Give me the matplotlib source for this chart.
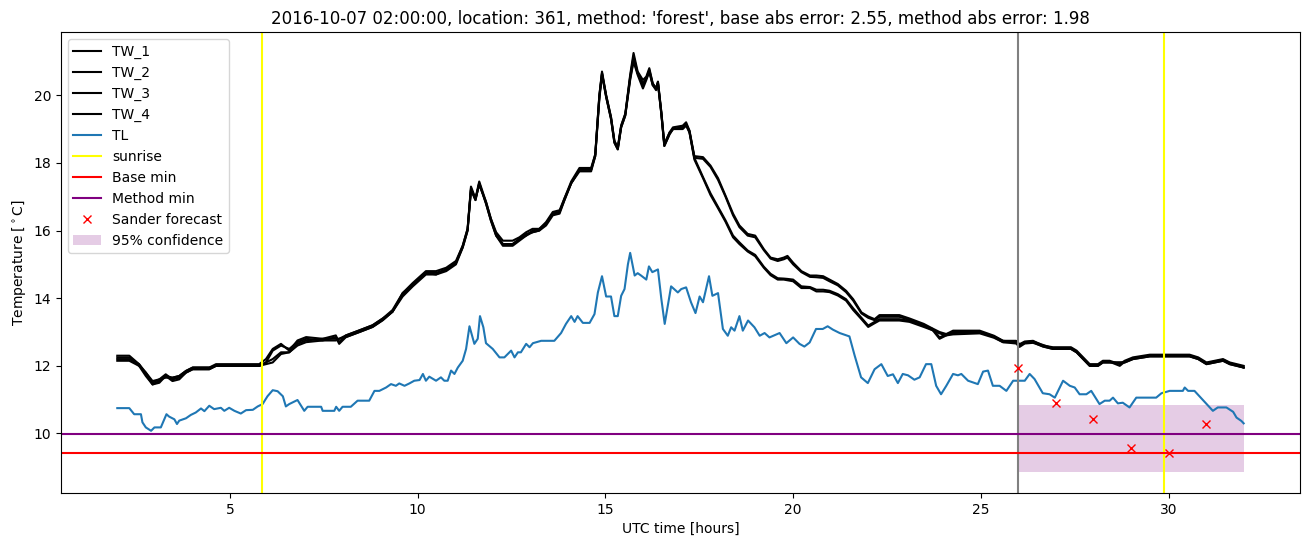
import matplotlib
matplotlib.use("Agg")
import matplotlib.pyplot as plt

# TL (blue) series as (hour, temperature) knots
tl_hours = [2.00, 2.32, 2.45, 2.63, 2.67, 2.76, 2.90, 2.99, 3.16, 3.31,
            3.38, 3.52, 3.59, 3.65, 3.83, 3.96, 4.09, 4.23, 4.32, 4.45,
            4.58, 4.76, 4.85, 4.98, 5.12, 5.29, 5.43, 5.61, 5.74, 5.87,
            6.00, 6.14, 6.27, 6.41, 6.49, 6.58, 6.80, 6.98, 7.07, 7.43,
            7.47, 7.78, 7.83, 7.91, 8.00, 8.22, 8.40, 8.71, 8.85, 8.98,
            9.16, 9.29, 9.42, 9.51, 9.65, 9.78, 9.91, 10.05, 10.14, 10.22,
            10.31, 10.49, 10.62, 10.71, 10.80, 10.89, 10.98, 11.07, 11.20, 11.29,
            11.38, 11.51, 11.60, 11.66, 11.75, 11.82, 12.00, 12.18, 12.31, 12.49,
            12.58, 12.67, 12.75, 12.89, 12.98, 13.07, 13.29, 13.64, 13.82, 13.95,
            14.09, 14.18, 14.26, 14.40, 14.58, 14.71, 14.80, 14.91, 15.02, 15.15,
            15.24, 15.33, 15.42, 15.51, 15.60, 15.66, 15.78, 15.86, 15.95, 16.09,
            16.16, 16.25, 16.40, 16.49, 16.58, 16.75, 16.93, 17.02, 17.15, 17.28,
            17.40, 17.51, 17.60, 17.76, 17.85, 18.00, 18.13, 18.26, 18.35, 18.44,
            18.57, 18.66, 18.80, 18.97, 19.11, 19.24, 19.37, 19.64, 19.82, 20.00,
            20.17, 20.30, 20.44, 20.61, 20.79, 20.92, 21.06, 21.24, 21.50, 21.64,
            21.81, 21.99, 22.17, 22.35, 22.52, 22.66, 22.79, 22.92, 23.06, 23.23,
            23.37, 23.54, 23.68, 23.81, 23.94, 24.08, 24.26, 24.39, 24.48, 24.66,
            24.79, 24.92, 25.06, 25.19, 25.32, 25.50, 25.68, 25.86, 26.17, 26.30,
            26.43, 26.65, 26.83, 26.97, 27.19, 27.37, 27.50, 27.63, 27.81, 27.94,
            28.16, 28.30, 28.43, 28.52, 28.65, 28.78, 28.96, 29.14, 29.67, 29.81,
            30.03, 30.38, 30.43, 30.52, 30.69, 31.18, 31.31, 31.54, 31.72, 31.81,
            31.94, 32.00]
tl_values = [10.75, 10.75, 10.57, 10.57, 10.33, 10.18, 10.08, 10.18, 10.18, 10.57,
             10.50, 10.42, 10.28, 10.38, 10.45, 10.55, 10.62, 10.74, 10.66, 10.82,
             10.72, 10.76, 10.67, 10.76, 10.67, 10.59, 10.69, 10.70, 10.80, 10.87,
             11.10, 11.28, 11.25, 11.10, 10.80, 10.87, 10.99, 10.67, 10.79, 10.79,
             10.67, 10.67, 10.79, 10.67, 10.79, 10.79, 10.97, 10.97, 11.26, 11.26,
             11.36, 11.46, 11.41, 11.48, 11.41, 11.48, 11.56, 11.58, 11.76, 11.56,
             11.68, 11.56, 11.66, 11.56, 11.56, 11.86, 11.76, 11.95, 12.15, 12.50,
             13.17, 12.65, 12.80, 13.47, 13.14, 12.67, 12.50, 12.25, 12.25, 12.45,
             12.25, 12.40, 12.40, 12.65, 12.55, 12.67, 12.74, 12.74, 12.97, 13.24,
             13.47, 13.30, 13.47, 13.27, 13.27, 13.53, 14.17, 14.65, 14.05, 14.05,
             13.47, 13.47, 14.07, 14.27, 15.00, 15.34, 14.67, 14.74, 14.67, 14.55,
             14.94, 14.77, 14.85, 13.98, 13.24, 14.35, 14.17, 14.27, 14.32, 13.88,
             13.56, 14.05, 13.88, 14.65, 14.07, 14.15, 13.09, 12.89, 13.14, 13.04,
             13.47, 13.04, 13.34, 13.14, 12.89, 12.97, 12.84, 12.97, 12.67, 12.84,
             12.65, 12.57, 12.69, 13.09, 13.09, 13.17, 13.07, 12.97, 12.87, 12.30,
             11.66, 11.49, 11.90, 12.05, 11.70, 11.75, 11.49, 11.76, 11.72, 11.59,
             11.66, 12.05, 12.05, 11.41, 11.16, 11.41, 11.76, 11.72, 11.76, 11.56,
             11.51, 11.46, 11.83, 11.86, 11.41, 11.41, 11.26, 11.56, 11.56, 11.76,
             11.61, 11.19, 11.16, 11.06, 11.56, 11.41, 11.36, 11.16, 11.16, 11.26,
             10.87, 10.97, 10.97, 11.06, 10.89, 10.91, 10.77, 11.06, 11.06, 11.19,
             11.26, 11.26, 11.36, 11.26, 11.26, 10.67, 10.77, 10.77, 10.64, 10.47,
             10.37, 10.30]

# TW_1..TW_4 (black) series, common knot hours
tw_hours = [2.00, 2.32, 2.58, 2.76, 2.94, 3.12, 3.29, 3.47, 3.65, 3.83,
            4.01, 4.45, 4.63, 5.78, 5.96, 6.14, 6.36, 6.58, 6.80, 7.03,
            7.47, 7.82, 7.91, 8.09, 8.45, 8.80, 9.07, 9.33, 9.60, 9.87,
            10.22, 10.49, 10.76, 11.02, 11.20, 11.33, 11.42, 11.54, 11.64, 11.82,
            11.95, 12.09, 12.27, 12.53, 12.71, 12.89, 13.06, 13.24, 13.42, 13.60,
            13.78, 13.91, 14.09, 14.31, 14.62, 14.73, 14.84, 14.91, 15.02, 15.15,
            15.24, 15.33, 15.42, 15.53, 15.66, 15.75, 15.86, 16.00, 16.09, 16.17,
            16.26, 16.35, 16.40, 16.49, 16.57, 16.71, 16.80, 17.06, 17.15, 17.24,
            17.37, 17.60, 17.80, 18.00, 18.20, 18.40, 18.57, 18.79, 18.99, 19.22,
            19.40, 19.59, 19.75, 19.85, 20.00, 20.22, 20.45, 20.62, 20.80, 20.97,
            21.19, 21.41, 21.60, 21.82, 22.00, 22.17, 22.30, 22.83, 23.10, 23.48,
            23.72, 23.90, 24.08, 24.26, 24.97, 25.35, 25.59, 25.94, 26.03, 26.17,
            26.39, 26.65, 26.92, 27.40, 27.55, 27.90, 28.12, 28.25, 28.43, 28.70,
            28.83, 29.05, 29.50, 30.56, 30.79, 31.01, 31.45, 31.63, 31.81, 32.00]
tw_1 = [12.3, 12.3, 12.05, 11.75, 11.45, 11.55, 11.7, 11.65, 11.7, 11.85,
        11.95, 11.95, 12.05, 12.05, 12.2, 12.5, 12.65, 12.45, 12.75, 12.85,
        12.8, 12.8, 12.8, 12.9, 13.05, 13.2, 13.4, 13.65, 14.15, 14.45,
        14.8, 14.8, 14.9, 15.1, 15.55, 16.05, 17.3, 16.95, 17.45, 16.85,
        16.35, 15.95, 15.7, 15.7, 15.8, 15.95, 16.05, 16.05, 16.25, 16.55,
        16.6, 16.95, 17.45, 17.85, 17.85, 18.25, 20.0, 20.7, 20.0, 19.35,
        18.65, 18.45, 19.1, 19.45, 20.6, 21.25, 20.7, 20.45, 20.55, 20.8,
        20.35, 20.2, 20.4, 19.5, 18.55, 18.9, 19.05, 19.1, 19.2, 18.95,
        18.2, 18.17, 17.92, 17.55, 17.03, 16.5, 16.15, 15.9, 15.85, 15.45,
        15.2, 15.15, 15.2, 15.25, 15.05, 14.8, 14.67, 14.67, 14.65, 14.55,
        14.42, 14.22, 13.97, 13.58, 13.46, 13.38, 13.5, 13.5, 13.4, 13.24,
        13.1, 13.0, 12.94, 12.97, 13.0, 12.87, 12.74, 12.74, 12.64, 12.72,
        12.74, 12.6, 12.55, 12.55, 12.45, 12.05, 12.05, 12.15, 12.15, 12.05,
        12.15, 12.25, 12.33, 12.33, 12.25, 12.1, 12.2, 12.1, 12.05, 12.0]
tw_2 = [12.25, 12.25, 12.0, 11.8, 11.5, 11.6, 11.75, 11.6, 11.65, 11.8,
        11.9, 11.9, 12.0, 12.0, 12.1, 12.45, 12.6, 12.5, 12.7, 12.8,
        12.75, 12.75, 12.8, 12.85, 13.0, 13.15, 13.35, 13.6, 14.1, 14.4,
        14.75, 14.7, 14.85, 15.05, 15.5, 16.0, 17.2, 16.9, 17.4, 16.8,
        16.3, 15.85, 15.6, 15.6, 15.75, 15.9, 15.95, 16.0, 16.2, 16.5,
        16.55, 16.9, 17.4, 17.8, 17.8, 18.2, 19.9, 20.6, 19.95, 19.3,
        18.6, 18.4, 19.05, 19.4, 20.45, 21.0, 20.6, 20.2, 20.45, 20.7,
        20.3, 20.15, 20.35, 19.45, 18.5, 18.85, 19.0, 19.05, 19.15, 18.9,
        18.15, 18.12, 17.88, 17.5, 17.0, 16.45, 16.1, 15.85, 15.8, 15.42,
        15.17, 15.1, 15.15, 15.2, 15.0, 14.77, 14.63, 14.62, 14.6, 14.5,
        14.38, 14.18, 13.93, 13.55, 13.42, 13.35, 13.45, 13.45, 13.36, 13.2,
        13.05, 12.96, 12.9, 12.93, 12.96, 12.83, 12.7, 12.7, 12.6, 12.68,
        12.7, 12.57, 12.5, 12.5, 12.4, 12.0, 12.0, 12.1, 12.1, 12.1,
        12.1, 12.2, 12.28, 12.28, 12.2, 12.05, 12.15, 12.05, 12.0, 11.95]
tw_3 = [12.15, 12.15, 12.0, 11.7, 11.45, 11.5, 11.7, 11.55, 11.6, 11.8,
        11.9, 11.9, 12.0, 12.0, 12.05, 12.1, 12.35, 12.4, 12.6, 12.7,
        12.75, 12.85, 12.65, 12.85, 13.0, 13.15, 13.35, 13.6, 14.05, 14.35,
        14.7, 14.7, 14.8, 15.0, 15.5, 16.0, 17.25, 16.9, 17.4, 16.8,
        16.3, 15.85, 15.55, 15.55, 15.7, 15.85, 15.95, 16.0, 16.15, 16.45,
        16.5, 16.9, 17.4, 17.75, 17.75, 18.2, 19.95, 20.65, 19.95, 19.3,
        18.6, 18.4, 19.05, 19.4, 20.55, 21.15, 20.65, 20.35, 20.5, 20.75,
        20.35, 20.2, 20.4, 19.5, 18.55, 18.9, 19.0, 19.05, 19.15, 18.95,
        18.15, 17.58, 17.1, 16.7, 16.3, 15.85, 15.65, 15.41, 15.28, 14.93,
        14.72, 14.59, 14.58, 14.57, 14.55, 14.35, 14.33, 14.25, 14.25, 14.22,
        14.12, 13.97, 13.7, 13.42, 13.19, 13.3, 13.38, 13.38, 13.33, 13.19,
        13.09, 12.84, 12.94, 13.04, 13.04, 12.89, 12.74, 12.7, 12.6, 12.7,
        12.72, 12.62, 12.52, 12.52, 12.42, 12.02, 12.02, 12.12, 12.12, 12.0,
        12.12, 12.22, 12.3, 12.3, 12.22, 12.08, 12.18, 12.08, 12.02, 11.95]
tw_4 = [12.2, 12.2, 12.05, 11.8, 11.55, 11.6, 11.65, 11.65, 11.7, 11.85,
        11.95, 11.95, 12.0, 12.0, 12.1, 12.2, 12.4, 12.4, 12.65, 12.75,
        12.8, 12.9, 12.7, 12.9, 13.05, 13.2, 13.4, 13.6, 14.15, 14.4,
        14.75, 14.75, 14.85, 15.05, 15.55, 16.05, 17.2, 16.95, 17.35, 16.85,
        16.35, 15.9, 15.6, 15.6, 15.75, 15.85, 16.0, 16.05, 16.2, 16.5,
        16.55, 16.95, 17.4, 17.8, 17.8, 18.25, 20.0, 20.65, 20.0, 19.35,
        18.65, 18.45, 19.1, 19.45, 20.5, 21.05, 20.65, 20.3, 20.5, 20.7,
        20.3, 20.2, 20.35, 19.45, 18.5, 18.85, 19.0, 19.0, 19.1, 18.9,
        18.1, 17.55, 17.05, 16.66, 16.26, 15.8, 15.6, 15.38, 15.24, 14.9,
        14.68, 14.55, 14.55, 14.53, 14.5, 14.3, 14.3, 14.2, 14.2, 14.18,
        14.08, 13.93, 13.65, 13.38, 13.15, 13.26, 13.34, 13.34, 13.3, 13.15,
        13.05, 12.8, 12.9, 13.0, 13.0, 12.85, 12.7, 12.66, 12.56, 12.66,
        12.68, 12.58, 12.5, 12.5, 12.4, 12.0, 12.0, 12.1, 12.1, 12.1,
        12.1, 12.2, 12.28, 12.28, 12.2, 12.05, 12.15, 12.05, 12.0, 11.95]

sunrise_hours = [5.85, 29.89]
forecast_start = 26.0
base_min = 9.42
method_min = 9.98
forecast_hours = [26, 27, 28, 29, 30, 31]
forecast_values = [11.95, 10.90, 10.44, 9.58, 9.42, 10.27]
conf_hours = [26.0, 32.0]
conf_low = 8.86
conf_high = 10.84

fig, ax = plt.subplots(figsize=(13.11, 5.47), dpi=100)
fig.subplots_adjust(left=0.0465, right=0.9916, top=0.9415, bottom=0.0987)

for name, vals in [("TW_1", tw_1), ("TW_2", tw_2), ("TW_3", tw_3), ("TW_4", tw_4)]:
    ax.plot(tw_hours, vals, color="black", label=name)
ax.plot(tl_hours, tl_values, color="#1f77b4", label="TL")

for i, h in enumerate(sunrise_hours):
    ax.axvline(h, color="yellow", label="sunrise" if i == 0 else None)
ax.axvline(forecast_start, color="grey")
ax.axhline(base_min, color="red", label="Base min")
ax.axhline(method_min, color="purple", label="Method min")
ax.plot(forecast_hours, forecast_values, "x", color="red", label="Sander forecast")
ax.fill_between(conf_hours, conf_low, conf_high, color="purple", alpha=0.2,
                linewidth=0, label="95% confidence")

ax.set_title("2016-10-07 02:00:00, location: 361, method: 'forest', "
             "base abs error: 2.55, method abs error: 1.98")
ax.set_xlabel("UTC time [hours]")
ax.set_ylabel(r"Temperature [$^\circ$C]")
ax.legend(loc="upper left")

fig.savefig("out.png", dpi=100)
